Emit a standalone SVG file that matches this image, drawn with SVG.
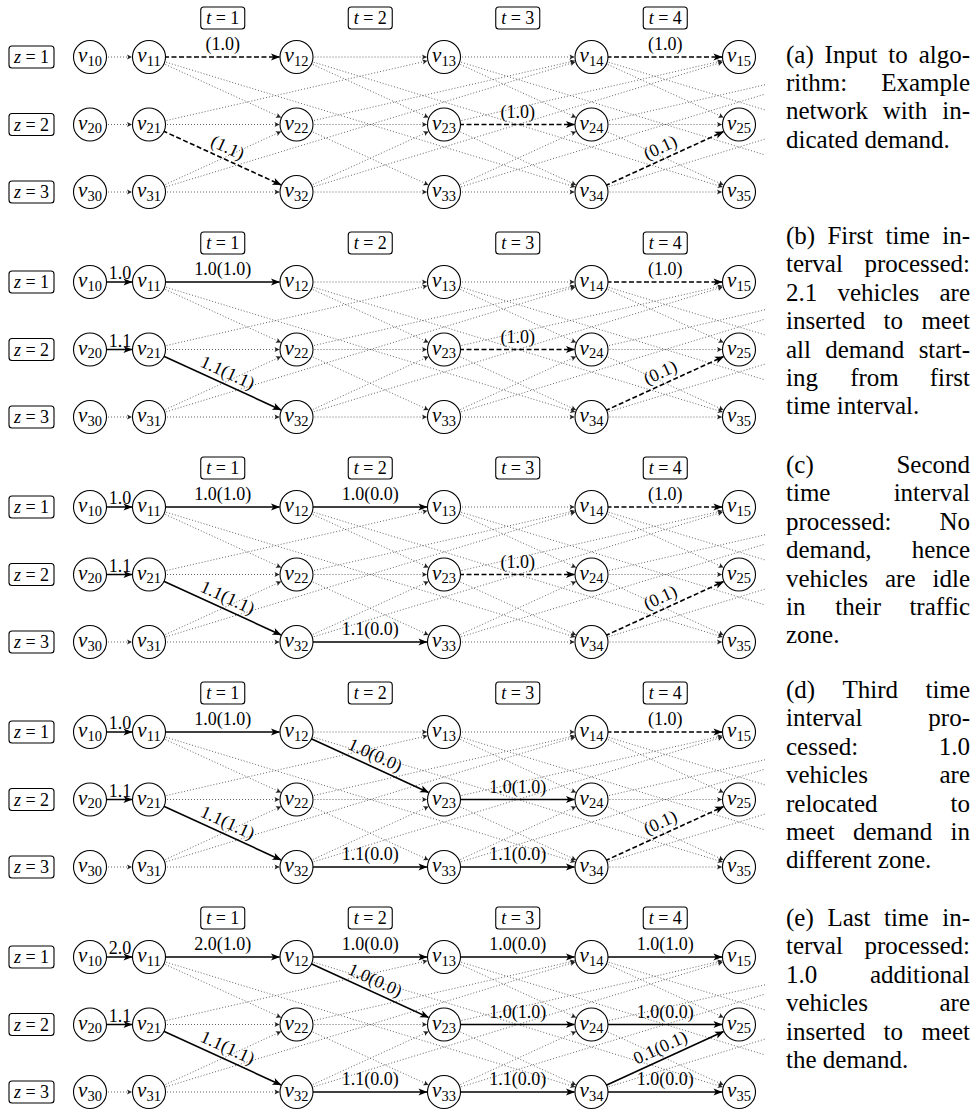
<svg xmlns="http://www.w3.org/2000/svg" width="979" height="1110" viewBox="0 0 979 1110">
<style>
.nd circle{fill:#fff;stroke:#000;stroke-width:1.1}
.nd text{font-family:"Liberation Serif",serif;font-size:21px;font-style:italic;text-anchor:middle}
.nd tspan{font-size:14.5px;font-style:normal}
.bx rect{fill:#fff;stroke:#000;stroke-width:1.1}
.bx text{font-family:"Liberation Serif",serif;font-size:18px;text-anchor:middle}
.it{font-style:italic}
.dot{fill:none;stroke:#555;stroke-width:0.9;stroke-dasharray:1 2;marker-end:url(#ad)}
.dash{fill:none;stroke:#000;stroke-width:1.6;stroke-dasharray:5 2.5;marker-end:url(#ah)}
.flow{fill:none;stroke:#000;stroke-width:1.6;marker-end:url(#ah)}
.el{font-family:"Liberation Serif",serif;font-size:18px;text-anchor:middle}
.cap text{font-family:"Liberation Serif",serif;font-size:25px}
.cap text.r{text-anchor:end}
</style>
<defs>
<marker id="ad" markerUnits="userSpaceOnUse" markerWidth="8" markerHeight="8" refX="0" refY="0" orient="auto" overflow="visible"><path d="M0,0 L-5,-2.6 L-3.8,0 L-5,2.6z" fill="#222"/></marker>
<marker id="ah" markerUnits="userSpaceOnUse" markerWidth="10" markerHeight="10" refX="0" refY="0" orient="auto" overflow="visible"><path d="M0.5,0 L-8.5,-3.6 L-6.3,0 L-8.5,3.6z" fill="#000"/></marker>
<clipPath id="clipR"><rect x="0" y="-20" width="765" height="260"/></clipPath>
</defs>
<rect width="979" height="1110" fill="#fff"/>

<!-- ===== (a) input network ===== -->
<g id="panel-a">
<g id="connectors-a" clip-path="url(#clipR)">
<path class="dot" d="M90 57H132"/><path class="dot" d="M90 124.5H132"/><path class="dot" d="M90 192H132"/>
<path class="dot" d="M149 124.5H279.5"/><path class="dot" d="M149 192H279.5"/>
<path class="dot" d="M296.5 57H427"/><path class="dot" d="M296.5 124.5H427"/><path class="dot" d="M296.5 192H427"/>
<path class="dot" d="M444 57H574.5"/><path class="dot" d="M444 192H574.5"/>
<path class="dot" d="M591.5 124.5H722"/><path class="dot" d="M591.5 192H722"/>
<path class="dot" d="M149 57L281 117.4"/><path class="dot" d="M296.5 57L428.5 117.4"/><path class="dot" d="M444 57L576 117.4"/><path class="dot" d="M591.5 57L723.5 117.4"/>
<path class="dot" d="M296.5 124.5L428.5 184.9"/><path class="dot" d="M444 124.5L576 184.9"/><path class="dot" d="M591.5 124.5L723.5 184.9"/>
<path class="dot" d="M149 192L281 131.6"/><path class="dot" d="M296.5 192L428.5 131.6"/><path class="dot" d="M444 192L576 131.6"/>
<path class="dot" d="M149 124.5L427.4 60.8"/><path class="dot" d="M296.5 124.5L574.9 60.8"/><path class="dot" d="M444 124.5L722.4 60.8"/><path class="dot" d="M591.5 124.5L869.9 60.8"/>
<path class="dot" d="M149 57L575.2 187"/><path class="dot" d="M296.5 57L722.7 187"/><path class="dot" d="M444 57L870.2 187"/><path class="dot" d="M591.5 57L1017.7 187"/>
<path class="dot" d="M149 192L575.2 62"/><path class="dot" d="M296.5 192L722.7 62"/><path class="dot" d="M444 192L870.2 62"/><path class="dot" d="M591.5 192L1017.7 62"/>
<path class="dash" d="M149 57H279.5"/>
<path class="dash" d="M149 124.5L281 184.9"/>
<path class="dash" d="M444 124.5H574.5"/>
<path class="dash" d="M591.5 57H722"/>
<path class="dash" d="M591.5 192L723.5 131.6"/>
</g>
<g id="edge-labels-a">
<text class="el" x="222.75" y="50">(1.0)</text>
<text class="el" transform="translate(222.75 158.25) rotate(24.59)" y="-6">(1.1)</text>
<text class="el" x="517.75" y="117.5">(1.0)</text>
<text class="el" x="665.25" y="50">(1.0)</text>
<text class="el" transform="translate(665.25 158.25) rotate(-24.59)" y="-6">(0.1)</text>
</g>
<g id="a-z1" class="bx"><rect x="9" y="46" width="45" height="22" rx="3"/><text x="31.5" y="63"><tspan class="it">z</tspan> = 1</text></g>
<g id="a-z2" class="bx"><rect x="9" y="113.5" width="45" height="22" rx="3"/><text x="31.5" y="130.5"><tspan class="it">z</tspan> = 2</text></g>
<g id="a-z3" class="bx"><rect x="9" y="181" width="45" height="22" rx="3"/><text x="31.5" y="198"><tspan class="it">z</tspan> = 3</text></g>
<g id="a-t1" class="bx"><rect x="200.75" y="7" width="44" height="22" rx="3"/><text x="222.75" y="24"><tspan class="it">t</tspan> = 1</text></g>
<g id="a-t2" class="bx"><rect x="348.25" y="7" width="44" height="22" rx="3"/><text x="370.25" y="24"><tspan class="it">t</tspan> = 2</text></g>
<g id="a-t3" class="bx"><rect x="495.75" y="7" width="44" height="22" rx="3"/><text x="517.75" y="24"><tspan class="it">t</tspan> = 3</text></g>
<g id="a-t4" class="bx"><rect x="643.25" y="7" width="44" height="22" rx="3"/><text x="665.25" y="24"><tspan class="it">t</tspan> = 4</text></g>
<g id="a-v10" class="nd"><circle cx="90" cy="57" r="16.5"/><text x="90" y="62">v<tspan dy="3.5">10</tspan></text></g>
<g id="a-v20" class="nd"><circle cx="90" cy="124.5" r="16.5"/><text x="90" y="129.5">v<tspan dy="3.5">20</tspan></text></g>
<g id="a-v30" class="nd"><circle cx="90" cy="192" r="16.5"/><text x="90" y="197">v<tspan dy="3.5">30</tspan></text></g>
<g id="a-v11" class="nd"><circle cx="149" cy="57" r="16.5"/><text x="149" y="62">v<tspan dy="3.5">11</tspan></text></g>
<g id="a-v21" class="nd"><circle cx="149" cy="124.5" r="16.5"/><text x="149" y="129.5">v<tspan dy="3.5">21</tspan></text></g>
<g id="a-v31" class="nd"><circle cx="149" cy="192" r="16.5"/><text x="149" y="197">v<tspan dy="3.5">31</tspan></text></g>
<g id="a-v12" class="nd"><circle cx="296.5" cy="57" r="16.5"/><text x="296.5" y="62">v<tspan dy="3.5">12</tspan></text></g>
<g id="a-v22" class="nd"><circle cx="296.5" cy="124.5" r="16.5"/><text x="296.5" y="129.5">v<tspan dy="3.5">22</tspan></text></g>
<g id="a-v32" class="nd"><circle cx="296.5" cy="192" r="16.5"/><text x="296.5" y="197">v<tspan dy="3.5">32</tspan></text></g>
<g id="a-v13" class="nd"><circle cx="444" cy="57" r="16.5"/><text x="444" y="62">v<tspan dy="3.5">13</tspan></text></g>
<g id="a-v23" class="nd"><circle cx="444" cy="124.5" r="16.5"/><text x="444" y="129.5">v<tspan dy="3.5">23</tspan></text></g>
<g id="a-v33" class="nd"><circle cx="444" cy="192" r="16.5"/><text x="444" y="197">v<tspan dy="3.5">33</tspan></text></g>
<g id="a-v14" class="nd"><circle cx="591.5" cy="57" r="16.5"/><text x="591.5" y="62">v<tspan dy="3.5">14</tspan></text></g>
<g id="a-v24" class="nd"><circle cx="591.5" cy="124.5" r="16.5"/><text x="591.5" y="129.5">v<tspan dy="3.5">24</tspan></text></g>
<g id="a-v34" class="nd"><circle cx="591.5" cy="192" r="16.5"/><text x="591.5" y="197">v<tspan dy="3.5">34</tspan></text></g>
<g id="a-v15" class="nd"><circle cx="739" cy="57" r="16.5"/><text x="739" y="62">v<tspan dy="3.5">15</tspan></text></g>
<g id="a-v25" class="nd"><circle cx="739" cy="124.5" r="16.5"/><text x="739" y="129.5">v<tspan dy="3.5">25</tspan></text></g>
<g id="a-v35" class="nd"><circle cx="739" cy="192" r="16.5"/><text x="739" y="197">v<tspan dy="3.5">35</tspan></text></g>
</g>

<!-- ===== (b) first interval ===== -->
<g id="panel-b" transform="translate(0 225)">
<g id="connectors-b" clip-path="url(#clipR)">
<path class="dot" d="M90 192H132"/>
<path class="dot" d="M149 124.5H279.5"/><path class="dot" d="M149 192H279.5"/>
<path class="dot" d="M296.5 57H427"/><path class="dot" d="M296.5 124.5H427"/><path class="dot" d="M296.5 192H427"/>
<path class="dot" d="M444 57H574.5"/><path class="dot" d="M444 192H574.5"/>
<path class="dot" d="M591.5 124.5H722"/><path class="dot" d="M591.5 192H722"/>
<path class="dot" d="M149 57L281 117.4"/><path class="dot" d="M296.5 57L428.5 117.4"/><path class="dot" d="M444 57L576 117.4"/><path class="dot" d="M591.5 57L723.5 117.4"/>
<path class="dot" d="M296.5 124.5L428.5 184.9"/><path class="dot" d="M444 124.5L576 184.9"/><path class="dot" d="M591.5 124.5L723.5 184.9"/>
<path class="dot" d="M149 192L281 131.6"/><path class="dot" d="M296.5 192L428.5 131.6"/><path class="dot" d="M444 192L576 131.6"/>
<path class="dot" d="M149 124.5L427.4 60.8"/><path class="dot" d="M296.5 124.5L574.9 60.8"/><path class="dot" d="M444 124.5L722.4 60.8"/><path class="dot" d="M591.5 124.5L869.9 60.8"/>
<path class="dot" d="M149 57L575.2 187"/><path class="dot" d="M296.5 57L722.7 187"/><path class="dot" d="M444 57L870.2 187"/><path class="dot" d="M591.5 57L1017.7 187"/>
<path class="dot" d="M149 192L575.2 62"/><path class="dot" d="M296.5 192L722.7 62"/><path class="dot" d="M444 192L870.2 62"/><path class="dot" d="M591.5 192L1017.7 62"/>
<path class="flow" d="M90 57H132"/>
<path class="flow" d="M90 124.5H132"/>
<path class="flow" d="M149 57H279.5"/>
<path class="flow" d="M149 124.5L281 184.9"/>
<path class="dash" d="M444 124.5H574.5"/>
<path class="dash" d="M591.5 57H722"/>
<path class="dash" d="M591.5 192L723.5 131.6"/>
</g>
<g id="edge-labels-b">
<text class="el" x="120" y="54">1.0</text>
<text class="el" x="120" y="121.5">1.1</text>
<text class="el" x="222.75" y="50">1.0(1.0)</text>
<text class="el" transform="translate(222.75 158.25) rotate(24.59)" y="-6">1.1(1.1)</text>
<text class="el" x="517.75" y="117.5">(1.0)</text>
<text class="el" x="665.25" y="50">(1.0)</text>
<text class="el" transform="translate(665.25 158.25) rotate(-24.59)" y="-6">(0.1)</text>
</g>
<g id="b-z1" class="bx"><rect x="9" y="46" width="45" height="22" rx="3"/><text x="31.5" y="63"><tspan class="it">z</tspan> = 1</text></g>
<g id="b-z2" class="bx"><rect x="9" y="113.5" width="45" height="22" rx="3"/><text x="31.5" y="130.5"><tspan class="it">z</tspan> = 2</text></g>
<g id="b-z3" class="bx"><rect x="9" y="181" width="45" height="22" rx="3"/><text x="31.5" y="198"><tspan class="it">z</tspan> = 3</text></g>
<g id="b-t1" class="bx"><rect x="200.75" y="7" width="44" height="22" rx="3"/><text x="222.75" y="24"><tspan class="it">t</tspan> = 1</text></g>
<g id="b-t2" class="bx"><rect x="348.25" y="7" width="44" height="22" rx="3"/><text x="370.25" y="24"><tspan class="it">t</tspan> = 2</text></g>
<g id="b-t3" class="bx"><rect x="495.75" y="7" width="44" height="22" rx="3"/><text x="517.75" y="24"><tspan class="it">t</tspan> = 3</text></g>
<g id="b-t4" class="bx"><rect x="643.25" y="7" width="44" height="22" rx="3"/><text x="665.25" y="24"><tspan class="it">t</tspan> = 4</text></g>
<g id="b-v10" class="nd"><circle cx="90" cy="57" r="16.5"/><text x="90" y="62">v<tspan dy="3.5">10</tspan></text></g>
<g id="b-v20" class="nd"><circle cx="90" cy="124.5" r="16.5"/><text x="90" y="129.5">v<tspan dy="3.5">20</tspan></text></g>
<g id="b-v30" class="nd"><circle cx="90" cy="192" r="16.5"/><text x="90" y="197">v<tspan dy="3.5">30</tspan></text></g>
<g id="b-v11" class="nd"><circle cx="149" cy="57" r="16.5"/><text x="149" y="62">v<tspan dy="3.5">11</tspan></text></g>
<g id="b-v21" class="nd"><circle cx="149" cy="124.5" r="16.5"/><text x="149" y="129.5">v<tspan dy="3.5">21</tspan></text></g>
<g id="b-v31" class="nd"><circle cx="149" cy="192" r="16.5"/><text x="149" y="197">v<tspan dy="3.5">31</tspan></text></g>
<g id="b-v12" class="nd"><circle cx="296.5" cy="57" r="16.5"/><text x="296.5" y="62">v<tspan dy="3.5">12</tspan></text></g>
<g id="b-v22" class="nd"><circle cx="296.5" cy="124.5" r="16.5"/><text x="296.5" y="129.5">v<tspan dy="3.5">22</tspan></text></g>
<g id="b-v32" class="nd"><circle cx="296.5" cy="192" r="16.5"/><text x="296.5" y="197">v<tspan dy="3.5">32</tspan></text></g>
<g id="b-v13" class="nd"><circle cx="444" cy="57" r="16.5"/><text x="444" y="62">v<tspan dy="3.5">13</tspan></text></g>
<g id="b-v23" class="nd"><circle cx="444" cy="124.5" r="16.5"/><text x="444" y="129.5">v<tspan dy="3.5">23</tspan></text></g>
<g id="b-v33" class="nd"><circle cx="444" cy="192" r="16.5"/><text x="444" y="197">v<tspan dy="3.5">33</tspan></text></g>
<g id="b-v14" class="nd"><circle cx="591.5" cy="57" r="16.5"/><text x="591.5" y="62">v<tspan dy="3.5">14</tspan></text></g>
<g id="b-v24" class="nd"><circle cx="591.5" cy="124.5" r="16.5"/><text x="591.5" y="129.5">v<tspan dy="3.5">24</tspan></text></g>
<g id="b-v34" class="nd"><circle cx="591.5" cy="192" r="16.5"/><text x="591.5" y="197">v<tspan dy="3.5">34</tspan></text></g>
<g id="b-v15" class="nd"><circle cx="739" cy="57" r="16.5"/><text x="739" y="62">v<tspan dy="3.5">15</tspan></text></g>
<g id="b-v25" class="nd"><circle cx="739" cy="124.5" r="16.5"/><text x="739" y="129.5">v<tspan dy="3.5">25</tspan></text></g>
<g id="b-v35" class="nd"><circle cx="739" cy="192" r="16.5"/><text x="739" y="197">v<tspan dy="3.5">35</tspan></text></g>
</g>

<!-- ===== (c) second interval ===== -->
<g id="panel-c" transform="translate(0 450)">
<g id="connectors-c" clip-path="url(#clipR)">
<path class="dot" d="M90 192H132"/>
<path class="dot" d="M149 124.5H279.5"/><path class="dot" d="M149 192H279.5"/>
<path class="dot" d="M296.5 124.5H427"/>
<path class="dot" d="M444 57H574.5"/><path class="dot" d="M444 192H574.5"/>
<path class="dot" d="M591.5 124.5H722"/><path class="dot" d="M591.5 192H722"/>
<path class="dot" d="M149 57L281 117.4"/><path class="dot" d="M296.5 57L428.5 117.4"/><path class="dot" d="M444 57L576 117.4"/><path class="dot" d="M591.5 57L723.5 117.4"/>
<path class="dot" d="M296.5 124.5L428.5 184.9"/><path class="dot" d="M444 124.5L576 184.9"/><path class="dot" d="M591.5 124.5L723.5 184.9"/>
<path class="dot" d="M149 192L281 131.6"/><path class="dot" d="M296.5 192L428.5 131.6"/><path class="dot" d="M444 192L576 131.6"/>
<path class="dot" d="M149 124.5L427.4 60.8"/><path class="dot" d="M296.5 124.5L574.9 60.8"/><path class="dot" d="M444 124.5L722.4 60.8"/><path class="dot" d="M591.5 124.5L869.9 60.8"/>
<path class="dot" d="M149 57L575.2 187"/><path class="dot" d="M296.5 57L722.7 187"/><path class="dot" d="M444 57L870.2 187"/><path class="dot" d="M591.5 57L1017.7 187"/>
<path class="dot" d="M149 192L575.2 62"/><path class="dot" d="M296.5 192L722.7 62"/><path class="dot" d="M444 192L870.2 62"/><path class="dot" d="M591.5 192L1017.7 62"/>
<path class="flow" d="M90 57H132"/>
<path class="flow" d="M90 124.5H132"/>
<path class="flow" d="M149 57H279.5"/>
<path class="flow" d="M149 124.5L281 184.9"/>
<path class="flow" d="M296.5 57H427"/>
<path class="flow" d="M296.5 192H427"/>
<path class="dash" d="M444 124.5H574.5"/>
<path class="dash" d="M591.5 57H722"/>
<path class="dash" d="M591.5 192L723.5 131.6"/>
</g>
<g id="edge-labels-c">
<text class="el" x="120" y="54">1.0</text>
<text class="el" x="120" y="121.5">1.1</text>
<text class="el" x="222.75" y="50">1.0(1.0)</text>
<text class="el" transform="translate(222.75 158.25) rotate(24.59)" y="-6">1.1(1.1)</text>
<text class="el" x="370.25" y="50">1.0(0.0)</text>
<text class="el" x="370.25" y="185">1.1(0.0)</text>
<text class="el" x="517.75" y="117.5">(1.0)</text>
<text class="el" x="665.25" y="50">(1.0)</text>
<text class="el" transform="translate(665.25 158.25) rotate(-24.59)" y="-6">(0.1)</text>
</g>
<g id="c-z1" class="bx"><rect x="9" y="46" width="45" height="22" rx="3"/><text x="31.5" y="63"><tspan class="it">z</tspan> = 1</text></g>
<g id="c-z2" class="bx"><rect x="9" y="113.5" width="45" height="22" rx="3"/><text x="31.5" y="130.5"><tspan class="it">z</tspan> = 2</text></g>
<g id="c-z3" class="bx"><rect x="9" y="181" width="45" height="22" rx="3"/><text x="31.5" y="198"><tspan class="it">z</tspan> = 3</text></g>
<g id="c-t1" class="bx"><rect x="200.75" y="7" width="44" height="22" rx="3"/><text x="222.75" y="24"><tspan class="it">t</tspan> = 1</text></g>
<g id="c-t2" class="bx"><rect x="348.25" y="7" width="44" height="22" rx="3"/><text x="370.25" y="24"><tspan class="it">t</tspan> = 2</text></g>
<g id="c-t3" class="bx"><rect x="495.75" y="7" width="44" height="22" rx="3"/><text x="517.75" y="24"><tspan class="it">t</tspan> = 3</text></g>
<g id="c-t4" class="bx"><rect x="643.25" y="7" width="44" height="22" rx="3"/><text x="665.25" y="24"><tspan class="it">t</tspan> = 4</text></g>
<g id="c-v10" class="nd"><circle cx="90" cy="57" r="16.5"/><text x="90" y="62">v<tspan dy="3.5">10</tspan></text></g>
<g id="c-v20" class="nd"><circle cx="90" cy="124.5" r="16.5"/><text x="90" y="129.5">v<tspan dy="3.5">20</tspan></text></g>
<g id="c-v30" class="nd"><circle cx="90" cy="192" r="16.5"/><text x="90" y="197">v<tspan dy="3.5">30</tspan></text></g>
<g id="c-v11" class="nd"><circle cx="149" cy="57" r="16.5"/><text x="149" y="62">v<tspan dy="3.5">11</tspan></text></g>
<g id="c-v21" class="nd"><circle cx="149" cy="124.5" r="16.5"/><text x="149" y="129.5">v<tspan dy="3.5">21</tspan></text></g>
<g id="c-v31" class="nd"><circle cx="149" cy="192" r="16.5"/><text x="149" y="197">v<tspan dy="3.5">31</tspan></text></g>
<g id="c-v12" class="nd"><circle cx="296.5" cy="57" r="16.5"/><text x="296.5" y="62">v<tspan dy="3.5">12</tspan></text></g>
<g id="c-v22" class="nd"><circle cx="296.5" cy="124.5" r="16.5"/><text x="296.5" y="129.5">v<tspan dy="3.5">22</tspan></text></g>
<g id="c-v32" class="nd"><circle cx="296.5" cy="192" r="16.5"/><text x="296.5" y="197">v<tspan dy="3.5">32</tspan></text></g>
<g id="c-v13" class="nd"><circle cx="444" cy="57" r="16.5"/><text x="444" y="62">v<tspan dy="3.5">13</tspan></text></g>
<g id="c-v23" class="nd"><circle cx="444" cy="124.5" r="16.5"/><text x="444" y="129.5">v<tspan dy="3.5">23</tspan></text></g>
<g id="c-v33" class="nd"><circle cx="444" cy="192" r="16.5"/><text x="444" y="197">v<tspan dy="3.5">33</tspan></text></g>
<g id="c-v14" class="nd"><circle cx="591.5" cy="57" r="16.5"/><text x="591.5" y="62">v<tspan dy="3.5">14</tspan></text></g>
<g id="c-v24" class="nd"><circle cx="591.5" cy="124.5" r="16.5"/><text x="591.5" y="129.5">v<tspan dy="3.5">24</tspan></text></g>
<g id="c-v34" class="nd"><circle cx="591.5" cy="192" r="16.5"/><text x="591.5" y="197">v<tspan dy="3.5">34</tspan></text></g>
<g id="c-v15" class="nd"><circle cx="739" cy="57" r="16.5"/><text x="739" y="62">v<tspan dy="3.5">15</tspan></text></g>
<g id="c-v25" class="nd"><circle cx="739" cy="124.5" r="16.5"/><text x="739" y="129.5">v<tspan dy="3.5">25</tspan></text></g>
<g id="c-v35" class="nd"><circle cx="739" cy="192" r="16.5"/><text x="739" y="197">v<tspan dy="3.5">35</tspan></text></g>
</g>

<!-- ===== (d) third interval ===== -->
<g id="panel-d" transform="translate(0 675)">
<g id="connectors-d" clip-path="url(#clipR)">
<path class="dot" d="M90 192H132"/>
<path class="dot" d="M149 124.5H279.5"/><path class="dot" d="M149 192H279.5"/>
<path class="dot" d="M296.5 57H427"/><path class="dot" d="M296.5 124.5H427"/>
<path class="dot" d="M444 57H574.5"/>
<path class="dot" d="M591.5 124.5H722"/><path class="dot" d="M591.5 192H722"/>
<path class="dot" d="M149 57L281 117.4"/><path class="dot" d="M444 57L576 117.4"/><path class="dot" d="M591.5 57L723.5 117.4"/>
<path class="dot" d="M296.5 124.5L428.5 184.9"/><path class="dot" d="M444 124.5L576 184.9"/><path class="dot" d="M591.5 124.5L723.5 184.9"/>
<path class="dot" d="M149 192L281 131.6"/><path class="dot" d="M296.5 192L428.5 131.6"/><path class="dot" d="M444 192L576 131.6"/>
<path class="dot" d="M149 124.5L427.4 60.8"/><path class="dot" d="M296.5 124.5L574.9 60.8"/><path class="dot" d="M444 124.5L722.4 60.8"/><path class="dot" d="M591.5 124.5L869.9 60.8"/>
<path class="dot" d="M149 57L575.2 187"/><path class="dot" d="M296.5 57L722.7 187"/><path class="dot" d="M444 57L870.2 187"/><path class="dot" d="M591.5 57L1017.7 187"/>
<path class="dot" d="M149 192L575.2 62"/><path class="dot" d="M296.5 192L722.7 62"/><path class="dot" d="M444 192L870.2 62"/><path class="dot" d="M591.5 192L1017.7 62"/>
<path class="flow" d="M90 57H132"/>
<path class="flow" d="M90 124.5H132"/>
<path class="flow" d="M149 57H279.5"/>
<path class="flow" d="M149 124.5L281 184.9"/>
<path class="flow" d="M296.5 57L428.5 117.4"/>
<path class="flow" d="M296.5 192H427"/>
<path class="flow" d="M444 124.5H574.5"/>
<path class="flow" d="M444 192H574.5"/>
<path class="dash" d="M591.5 57H722"/>
<path class="dash" d="M591.5 192L723.5 131.6"/>
</g>
<g id="edge-labels-d">
<text class="el" x="120" y="54">1.0</text>
<text class="el" x="120" y="121.5">1.1</text>
<text class="el" x="222.75" y="50">1.0(1.0)</text>
<text class="el" transform="translate(222.75 158.25) rotate(24.59)" y="-6">1.1(1.1)</text>
<text class="el" transform="translate(370.25 90.75) rotate(24.59)" y="-6">1.0(0.0)</text>
<text class="el" x="370.25" y="185">1.1(0.0)</text>
<text class="el" x="517.75" y="117.5">1.0(1.0)</text>
<text class="el" x="517.75" y="185">1.1(0.0)</text>
<text class="el" x="665.25" y="50">(1.0)</text>
<text class="el" transform="translate(665.25 158.25) rotate(-24.59)" y="-6">(0.1)</text>
</g>
<g id="d-z1" class="bx"><rect x="9" y="46" width="45" height="22" rx="3"/><text x="31.5" y="63"><tspan class="it">z</tspan> = 1</text></g>
<g id="d-z2" class="bx"><rect x="9" y="113.5" width="45" height="22" rx="3"/><text x="31.5" y="130.5"><tspan class="it">z</tspan> = 2</text></g>
<g id="d-z3" class="bx"><rect x="9" y="181" width="45" height="22" rx="3"/><text x="31.5" y="198"><tspan class="it">z</tspan> = 3</text></g>
<g id="d-t1" class="bx"><rect x="200.75" y="7" width="44" height="22" rx="3"/><text x="222.75" y="24"><tspan class="it">t</tspan> = 1</text></g>
<g id="d-t2" class="bx"><rect x="348.25" y="7" width="44" height="22" rx="3"/><text x="370.25" y="24"><tspan class="it">t</tspan> = 2</text></g>
<g id="d-t3" class="bx"><rect x="495.75" y="7" width="44" height="22" rx="3"/><text x="517.75" y="24"><tspan class="it">t</tspan> = 3</text></g>
<g id="d-t4" class="bx"><rect x="643.25" y="7" width="44" height="22" rx="3"/><text x="665.25" y="24"><tspan class="it">t</tspan> = 4</text></g>
<g id="d-v10" class="nd"><circle cx="90" cy="57" r="16.5"/><text x="90" y="62">v<tspan dy="3.5">10</tspan></text></g>
<g id="d-v20" class="nd"><circle cx="90" cy="124.5" r="16.5"/><text x="90" y="129.5">v<tspan dy="3.5">20</tspan></text></g>
<g id="d-v30" class="nd"><circle cx="90" cy="192" r="16.5"/><text x="90" y="197">v<tspan dy="3.5">30</tspan></text></g>
<g id="d-v11" class="nd"><circle cx="149" cy="57" r="16.5"/><text x="149" y="62">v<tspan dy="3.5">11</tspan></text></g>
<g id="d-v21" class="nd"><circle cx="149" cy="124.5" r="16.5"/><text x="149" y="129.5">v<tspan dy="3.5">21</tspan></text></g>
<g id="d-v31" class="nd"><circle cx="149" cy="192" r="16.5"/><text x="149" y="197">v<tspan dy="3.5">31</tspan></text></g>
<g id="d-v12" class="nd"><circle cx="296.5" cy="57" r="16.5"/><text x="296.5" y="62">v<tspan dy="3.5">12</tspan></text></g>
<g id="d-v22" class="nd"><circle cx="296.5" cy="124.5" r="16.5"/><text x="296.5" y="129.5">v<tspan dy="3.5">22</tspan></text></g>
<g id="d-v32" class="nd"><circle cx="296.5" cy="192" r="16.5"/><text x="296.5" y="197">v<tspan dy="3.5">32</tspan></text></g>
<g id="d-v13" class="nd"><circle cx="444" cy="57" r="16.5"/><text x="444" y="62">v<tspan dy="3.5">13</tspan></text></g>
<g id="d-v23" class="nd"><circle cx="444" cy="124.5" r="16.5"/><text x="444" y="129.5">v<tspan dy="3.5">23</tspan></text></g>
<g id="d-v33" class="nd"><circle cx="444" cy="192" r="16.5"/><text x="444" y="197">v<tspan dy="3.5">33</tspan></text></g>
<g id="d-v14" class="nd"><circle cx="591.5" cy="57" r="16.5"/><text x="591.5" y="62">v<tspan dy="3.5">14</tspan></text></g>
<g id="d-v24" class="nd"><circle cx="591.5" cy="124.5" r="16.5"/><text x="591.5" y="129.5">v<tspan dy="3.5">24</tspan></text></g>
<g id="d-v34" class="nd"><circle cx="591.5" cy="192" r="16.5"/><text x="591.5" y="197">v<tspan dy="3.5">34</tspan></text></g>
<g id="d-v15" class="nd"><circle cx="739" cy="57" r="16.5"/><text x="739" y="62">v<tspan dy="3.5">15</tspan></text></g>
<g id="d-v25" class="nd"><circle cx="739" cy="124.5" r="16.5"/><text x="739" y="129.5">v<tspan dy="3.5">25</tspan></text></g>
<g id="d-v35" class="nd"><circle cx="739" cy="192" r="16.5"/><text x="739" y="197">v<tspan dy="3.5">35</tspan></text></g>
</g>

<!-- ===== (e) last interval ===== -->
<g id="panel-e" transform="translate(0 900)">
<g id="connectors-e" clip-path="url(#clipR)">
<path class="dot" d="M90 192H132"/>
<path class="dot" d="M149 124.5H279.5"/><path class="dot" d="M149 192H279.5"/>
<path class="dot" d="M296.5 124.5H427"/>
<path class="dot" d="M149 57L281 117.4"/><path class="dot" d="M444 57L576 117.4"/><path class="dot" d="M591.5 57L723.5 117.4"/>
<path class="dot" d="M296.5 124.5L428.5 184.9"/><path class="dot" d="M444 124.5L576 184.9"/><path class="dot" d="M591.5 124.5L723.5 184.9"/>
<path class="dot" d="M149 192L281 131.6"/><path class="dot" d="M296.5 192L428.5 131.6"/><path class="dot" d="M444 192L576 131.6"/>
<path class="dot" d="M149 124.5L427.4 60.8"/><path class="dot" d="M296.5 124.5L574.9 60.8"/><path class="dot" d="M444 124.5L722.4 60.8"/><path class="dot" d="M591.5 124.5L869.9 60.8"/>
<path class="dot" d="M149 57L575.2 187"/><path class="dot" d="M296.5 57L722.7 187"/><path class="dot" d="M444 57L870.2 187"/><path class="dot" d="M591.5 57L1017.7 187"/>
<path class="dot" d="M149 192L575.2 62"/><path class="dot" d="M296.5 192L722.7 62"/><path class="dot" d="M444 192L870.2 62"/><path class="dot" d="M591.5 192L1017.7 62"/>
<path class="flow" d="M90 57H132"/>
<path class="flow" d="M90 124.5H132"/>
<path class="flow" d="M149 57H279.5"/>
<path class="flow" d="M149 124.5L281 184.9"/>
<path class="flow" d="M296.5 57H427"/>
<path class="flow" d="M296.5 57L428.5 117.4"/>
<path class="flow" d="M296.5 192H427"/>
<path class="flow" d="M444 57H574.5"/>
<path class="flow" d="M444 124.5H574.5"/>
<path class="flow" d="M444 192H574.5"/>
<path class="flow" d="M591.5 57H722"/>
<path class="flow" d="M591.5 124.5H722"/>
<path class="flow" d="M591.5 192L723.5 131.6"/>
<path class="flow" d="M591.5 192H722"/>
</g>
<g id="edge-labels-e">
<text class="el" x="120" y="54">2.0</text>
<text class="el" x="120" y="121.5">1.1</text>
<text class="el" x="222.75" y="50">2.0(1.0)</text>
<text class="el" transform="translate(222.75 158.25) rotate(24.59)" y="-6">1.1(1.1)</text>
<text class="el" x="370.25" y="50">1.0(0.0)</text>
<text class="el" transform="translate(370.25 90.75) rotate(24.59)" y="-6">1.0(0.0)</text>
<text class="el" x="370.25" y="185">1.1(0.0)</text>
<text class="el" x="517.75" y="50">1.0(0.0)</text>
<text class="el" x="517.75" y="117.5">1.0(1.0)</text>
<text class="el" x="517.75" y="185">1.1(0.0)</text>
<text class="el" x="665.25" y="50">1.0(1.0)</text>
<text class="el" x="665.25" y="117.5">1.0(0.0)</text>
<text class="el" transform="translate(665.25 158.25) rotate(-24.59)" y="-6">0.1(0.1)</text>
<text class="el" x="665.25" y="185">1.0(0.0)</text>
</g>
<g id="e-z1" class="bx"><rect x="9" y="46" width="45" height="22" rx="3"/><text x="31.5" y="63"><tspan class="it">z</tspan> = 1</text></g>
<g id="e-z2" class="bx"><rect x="9" y="113.5" width="45" height="22" rx="3"/><text x="31.5" y="130.5"><tspan class="it">z</tspan> = 2</text></g>
<g id="e-z3" class="bx"><rect x="9" y="181" width="45" height="22" rx="3"/><text x="31.5" y="198"><tspan class="it">z</tspan> = 3</text></g>
<g id="e-t1" class="bx"><rect x="200.75" y="7" width="44" height="22" rx="3"/><text x="222.75" y="24"><tspan class="it">t</tspan> = 1</text></g>
<g id="e-t2" class="bx"><rect x="348.25" y="7" width="44" height="22" rx="3"/><text x="370.25" y="24"><tspan class="it">t</tspan> = 2</text></g>
<g id="e-t3" class="bx"><rect x="495.75" y="7" width="44" height="22" rx="3"/><text x="517.75" y="24"><tspan class="it">t</tspan> = 3</text></g>
<g id="e-t4" class="bx"><rect x="643.25" y="7" width="44" height="22" rx="3"/><text x="665.25" y="24"><tspan class="it">t</tspan> = 4</text></g>
<g id="e-v10" class="nd"><circle cx="90" cy="57" r="16.5"/><text x="90" y="62">v<tspan dy="3.5">10</tspan></text></g>
<g id="e-v20" class="nd"><circle cx="90" cy="124.5" r="16.5"/><text x="90" y="129.5">v<tspan dy="3.5">20</tspan></text></g>
<g id="e-v30" class="nd"><circle cx="90" cy="192" r="16.5"/><text x="90" y="197">v<tspan dy="3.5">30</tspan></text></g>
<g id="e-v11" class="nd"><circle cx="149" cy="57" r="16.5"/><text x="149" y="62">v<tspan dy="3.5">11</tspan></text></g>
<g id="e-v21" class="nd"><circle cx="149" cy="124.5" r="16.5"/><text x="149" y="129.5">v<tspan dy="3.5">21</tspan></text></g>
<g id="e-v31" class="nd"><circle cx="149" cy="192" r="16.5"/><text x="149" y="197">v<tspan dy="3.5">31</tspan></text></g>
<g id="e-v12" class="nd"><circle cx="296.5" cy="57" r="16.5"/><text x="296.5" y="62">v<tspan dy="3.5">12</tspan></text></g>
<g id="e-v22" class="nd"><circle cx="296.5" cy="124.5" r="16.5"/><text x="296.5" y="129.5">v<tspan dy="3.5">22</tspan></text></g>
<g id="e-v32" class="nd"><circle cx="296.5" cy="192" r="16.5"/><text x="296.5" y="197">v<tspan dy="3.5">32</tspan></text></g>
<g id="e-v13" class="nd"><circle cx="444" cy="57" r="16.5"/><text x="444" y="62">v<tspan dy="3.5">13</tspan></text></g>
<g id="e-v23" class="nd"><circle cx="444" cy="124.5" r="16.5"/><text x="444" y="129.5">v<tspan dy="3.5">23</tspan></text></g>
<g id="e-v33" class="nd"><circle cx="444" cy="192" r="16.5"/><text x="444" y="197">v<tspan dy="3.5">33</tspan></text></g>
<g id="e-v14" class="nd"><circle cx="591.5" cy="57" r="16.5"/><text x="591.5" y="62">v<tspan dy="3.5">14</tspan></text></g>
<g id="e-v24" class="nd"><circle cx="591.5" cy="124.5" r="16.5"/><text x="591.5" y="129.5">v<tspan dy="3.5">24</tspan></text></g>
<g id="e-v34" class="nd"><circle cx="591.5" cy="192" r="16.5"/><text x="591.5" y="197">v<tspan dy="3.5">34</tspan></text></g>
<g id="e-v15" class="nd"><circle cx="739" cy="57" r="16.5"/><text x="739" y="62">v<tspan dy="3.5">15</tspan></text></g>
<g id="e-v25" class="nd"><circle cx="739" cy="124.5" r="16.5"/><text x="739" y="129.5">v<tspan dy="3.5">25</tspan></text></g>
<g id="e-v35" class="nd"><circle cx="739" cy="192" r="16.5"/><text x="739" y="197">v<tspan dy="3.5">35</tspan></text></g>
</g>

<!-- ===== sub-captions, justified word by word ===== -->
<g id="caption-a" class="cap">
<text x="786" y="62.5">(a)<tspan x="824.6">Input</tspan><tspan x="888.3">to</tspan></text><text class="r" x="970" y="62.5">algo-</text>
<text x="786" y="90.9">rithm:</text><text class="r" x="970" y="90.9">Example</text>
<text x="786" y="119.3">network<tspan x="882.8">with</tspan></text><text class="r" x="970" y="119.3">in-</text>
<text x="786" y="147.7">dicated demand.</text>
</g>
<g id="caption-b" class="cap">
<text x="786" y="244">(b)<tspan x="827.4">First</tspan><tspan x="885.5">time</tspan></text><text class="r" x="970" y="244">in-</text>
<text x="786" y="272.4">terval</text><text class="r" x="970" y="272.4">processed:</text>
<text x="786" y="300.8">2.1<tspan x="837.4">vehicles</tspan></text><text class="r" x="970" y="300.8">are</text>
<text x="786" y="329.2">inserted<tspan x="883.5">to</tspan></text><text class="r" x="970" y="329.2">meet</text>
<text x="786" y="357.6">all<tspan x="825.2">demand</tspan></text><text class="r" x="970" y="357.6">start-</text>
<text x="786" y="386">ing<tspan x="850.2">from</tspan></text><text class="r" x="970" y="386">first</text>
<text x="786" y="414.4">time interval.</text>
</g>
<g id="caption-c" class="cap">
<text x="786" y="473">(c)</text><text class="r" x="970" y="473">Second</text>
<text x="786" y="501.4">time</text><text class="r" x="970" y="501.4">interval</text>
<text x="786" y="529.8">processed:</text><text class="r" x="970" y="529.8">No</text>
<text x="786" y="558.2">demand,</text><text class="r" x="970" y="558.2">hence</text>
<text x="786" y="586.6">vehicles<tspan x="885">are</tspan></text><text class="r" x="970" y="586.6">idle</text>
<text x="786" y="615">in<tspan x="835.2">their</tspan></text><text class="r" x="970" y="615">traffic</text>
<text x="786" y="643.4">zone.</text>
</g>
<g id="caption-d" class="cap">
<text x="786" y="698">(d)<tspan x="842.5">Third</tspan></text><text class="r" x="970" y="698">time</text>
<text x="786" y="726.4">interval</text><text class="r" x="970" y="726.4">pro-</text>
<text x="786" y="754.8">cessed:</text><text class="r" x="970" y="754.8">1.0</text>
<text x="786" y="783.2">vehicles</text><text class="r" x="970" y="783.2">are</text>
<text x="786" y="811.6">relocated</text><text class="r" x="970" y="811.6">to</text>
<text x="786" y="840">meet<tspan x="853">demand</tspan></text><text class="r" x="970" y="840">in</text>
<text x="786" y="868.4">different zone.</text>
</g>
<g id="caption-e" class="cap">
<text x="786" y="926">(e)<tspan x="827.4">Last</tspan><tspan x="884.1">time</tspan></text><text class="r" x="970" y="926">in-</text>
<text x="786" y="954.4">terval</text><text class="r" x="970" y="954.4">processed:</text>
<text x="786" y="982.8">1.0</text><text class="r" x="970" y="982.8">additional</text>
<text x="786" y="1011.2">vehicles</text><text class="r" x="970" y="1011.2">are</text>
<text x="786" y="1039.6">inserted<tspan x="883.5">to</tspan></text><text class="r" x="970" y="1039.6">meet</text>
<text x="786" y="1068">the demand.</text>
</g>
</svg>
